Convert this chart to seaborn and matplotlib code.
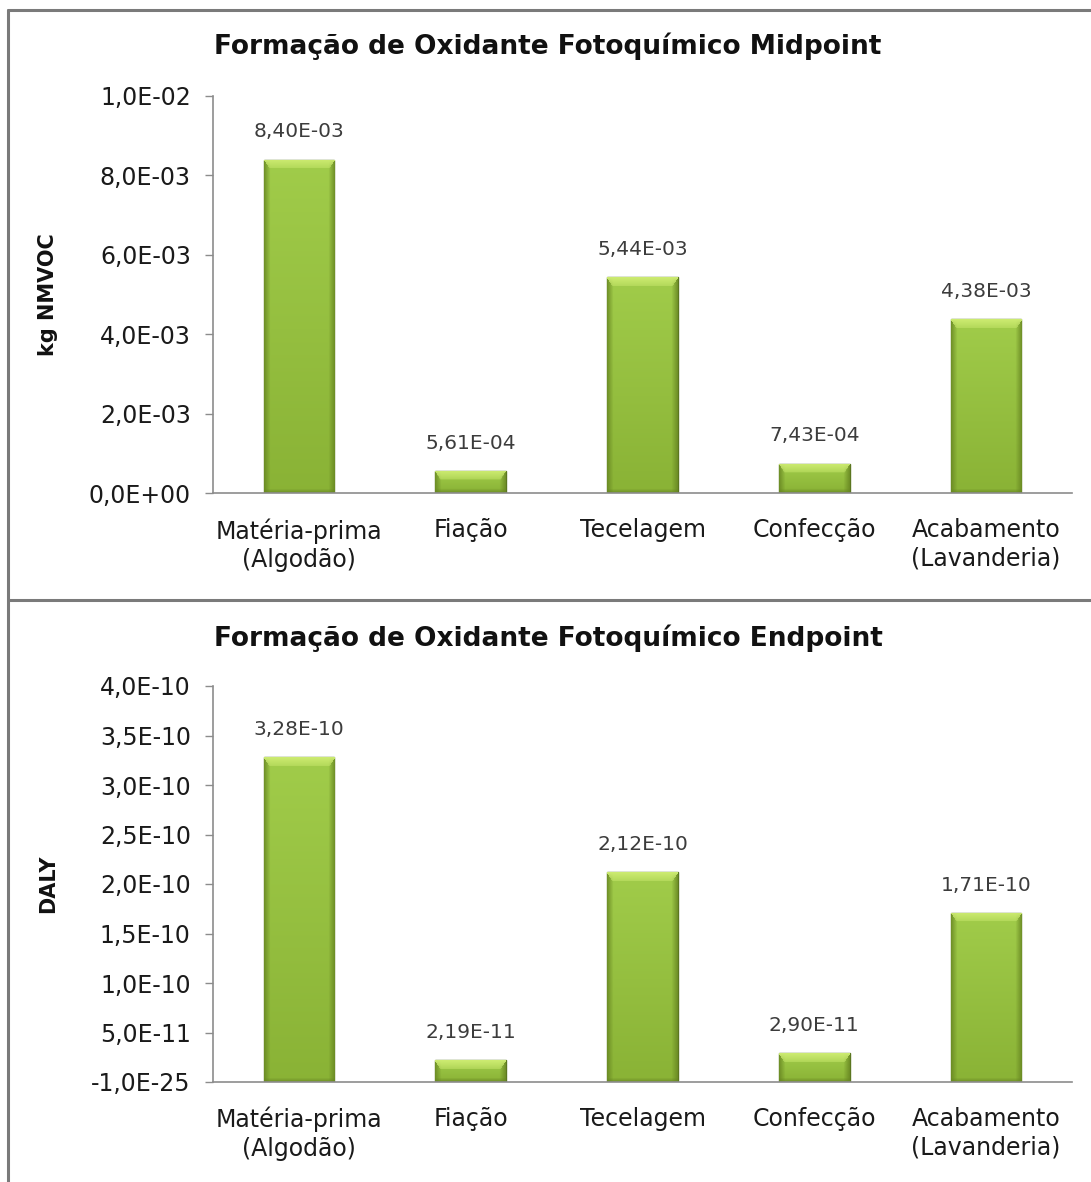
import numpy as np
import pandas as pd
import matplotlib
matplotlib.use("Agg")
import matplotlib.pyplot as plt
import seaborn as sns
from matplotlib.lines import Line2D

# Stages of the textile production chain
categories = ["Matéria-prima\n(Algodão)", "Fiação", "Tecelagem", "Confecção", "Acabamento\n(Lavanderia)"]

# Photochemical oxidant formation, midpoint (kg NMVOC)
midpoint_values = [8.40e-03, 5.61e-04, 5.44e-03, 7.43e-04, 4.38e-03]
midpoint_ticks = [0.0, 2.0e-03, 4.0e-03, 6.0e-03, 8.0e-03, 1.0e-02]
midpoint_ticklabels = ["0,0E+00", "2,0E-03", "4,0E-03", "6,0E-03", "8,0E-03", "1,0E-02"]

# Photochemical oxidant formation, endpoint (DALY)
endpoint_values = [3.28e-10, 2.19e-11, 2.12e-10, 2.90e-11, 1.71e-10]
endpoint_ticks = [0.0, 5.0e-11, 1.0e-10, 1.5e-10, 2.0e-10, 2.5e-10, 3.0e-10, 3.5e-10, 4.0e-10]
endpoint_ticklabels = ["-1,0E-25", "5,0E-11", "1,0E-10", "1,5E-10", "2,0E-10",
                       "2,5E-10", "3,0E-10", "3,5E-10", "4,0E-10"]

W, H, DPI = 1091, 1182, 100
sns.set_theme(style="white")
plt.rcParams["font.family"] = ["DejaVu Sans"]

fig = plt.figure(figsize=(W / DPI, H / DPI), dpi=DPI)
fig.patch.set_facecolor("white")


def bar_texture(h_px, w_px, bevel=9, edge=6):
    """RGB image of a bevelled green bar, h_px rows by w_px columns."""
    h_px = max(int(round(h_px)), 2)
    w_px = max(int(round(w_px)), 2)
    top = np.array([0.63, 0.80, 0.29])
    bottom = np.array([0.54, 0.70, 0.21])
    side = np.array([0.40, 0.52, 0.13])
    light = np.array([0.80, 0.92, 0.44])
    t = np.linspace(0, 1, h_px)[:, None, None]
    img = top * (1 - t) + bottom * t
    img = np.broadcast_to(img, (h_px, w_px, 3)).copy()
    cols = np.arange(w_px)
    rows = np.arange(h_px)
    # darker side faces
    dl = np.clip(1 - cols / edge, 0, 1)
    dr = np.clip(1 - (w_px - 1 - cols) / edge, 0, 1)
    d = np.maximum(dl, dr)[None, :, None]
    img = img * (1 - 0.8 * d) + side * 0.8 * d
    # bottom face
    db = np.clip(1 - (h_px - 1 - rows) / 4, 0, 1)[:, None, None]
    img = img * (1 - 0.7 * db) + side * 0.7 * db
    # light top bevel with slanted corners
    b = min(bevel, h_px // 2)
    for r in range(b):
        lo = int(edge * r / max(b, 1))
        hi = w_px - lo
        f = 1 - r / max(b, 1) * 0.6
        img[r, lo:hi] = img[r, lo:hi] * (1 - f) + light * f
    return np.clip(img, 0, 1)


def draw_panel(rect, values, ticks, ticklabels, ylabel, ymax, labelpad):
    ax = fig.add_axes(rect)
    df = pd.DataFrame({"stage": categories, "value": values})
    sns.barplot(data=df, x="stage", y="value", ax=ax, color="#8db83a",
                width=0.41, edgecolor="#5b7620", linewidth=1.0, saturation=1)
    ax.set_ylim(0, ymax)
    ax.set_xlim(-0.5, len(categories) - 0.5)

    # replace flat fill with a bevelled gradient, clipped to each bar
    bbox = ax.get_window_extent()
    px_per_y = bbox.height / ymax
    px_per_x = bbox.width / len(categories)
    for p in list(ax.patches):
        x0, y0 = p.get_x(), p.get_y()
        w, h = p.get_width(), p.get_height()
        tex = bar_texture(h * px_per_y, w * px_per_x)
        im = ax.imshow(tex, extent=(x0, x0 + w, y0, y0 + h), aspect="auto",
                       origin="upper", zorder=p.get_zorder() + 0.1, interpolation="bilinear")
        im.set_clip_path(p)
    ax.set_xlim(-0.5, len(categories) - 0.5)
    ax.set_ylim(0, ymax)

    labels = [f"{v:.2E}".replace(".", ",") for v in values]
    ax.bar_label(ax.containers[0], labels=labels, padding=13, fontsize=14.5,
                 color="#3c3c3c", family="DejaVu Sans")

    ax.set_yticks(ticks)
    ax.set_yticklabels(ticklabels, fontsize=17, color="#1a1a1a")
    ax.set_xticks(range(len(categories)))
    ax.set_xticklabels(categories, fontsize=17, color="#1a1a1a", linespacing=1.25)
    ax.set_xticks(np.arange(-0.5, len(categories), 1.0), minor=True)
    ax.tick_params(axis="x", which="major", length=0, pad=18)
    ax.tick_params(axis="x", which="minor", length=6, width=1, color="#8c8c8c", direction="out")
    ax.tick_params(axis="y", which="major", length=6, width=1, color="#8c8c8c",
                   direction="out", left=True, pad=10)
    ax.set_xlabel("")
    ax.set_ylabel(ylabel, fontsize=15, fontweight="bold", color="#111111", labelpad=labelpad)
    for s in ["top", "right"]:
        ax.spines[s].set_visible(False)
    for s in ["left", "bottom"]:
        ax.spines[s].set_color("#8c8c8c")
        ax.spines[s].set_linewidth(1.2)
    ax.set_facecolor("white")
    ax.grid(False)
    return ax


draw_panel([213 / W, 1 - 493 / H, 859 / W, 397 / H], midpoint_values, midpoint_ticks,
           midpoint_ticklabels, "kg NMVOC", 1.0e-02, 22)
draw_panel([213 / W, 1 - 1082 / H, 859 / W, 396 / H], endpoint_values, endpoint_ticks,
           endpoint_ticklabels, "DALY", 4.0e-10, 24)

fig.text(548 / W, 1 - 46 / H, "Formação de Oxidante Fotoquímico Midpoint",
         ha="center", va="center", fontsize=19, fontweight="bold", color="#111111")
fig.text(548 / W, 1 - 638 / H, "Formação de Oxidante Fotoquímico Endpoint",
         ha="center", va="center", fontsize=19, fontweight="bold", color="#111111")

# panel frames
frame = dict(color="#7a7a7a", linewidth=2.2, transform=fig.transFigure)
fig.add_artist(Line2D([8 / W, 1.0], [1 - 10 / H, 1 - 10 / H], **frame))
fig.add_artist(Line2D([8 / W, 8 / W], [1 - 10 / H, 0.0], **frame))
fig.add_artist(Line2D([8 / W, 1.0], [1 - 600 / H, 1 - 600 / H], **frame))

fig.savefig("out.png", dpi=DPI, facecolor="white")
